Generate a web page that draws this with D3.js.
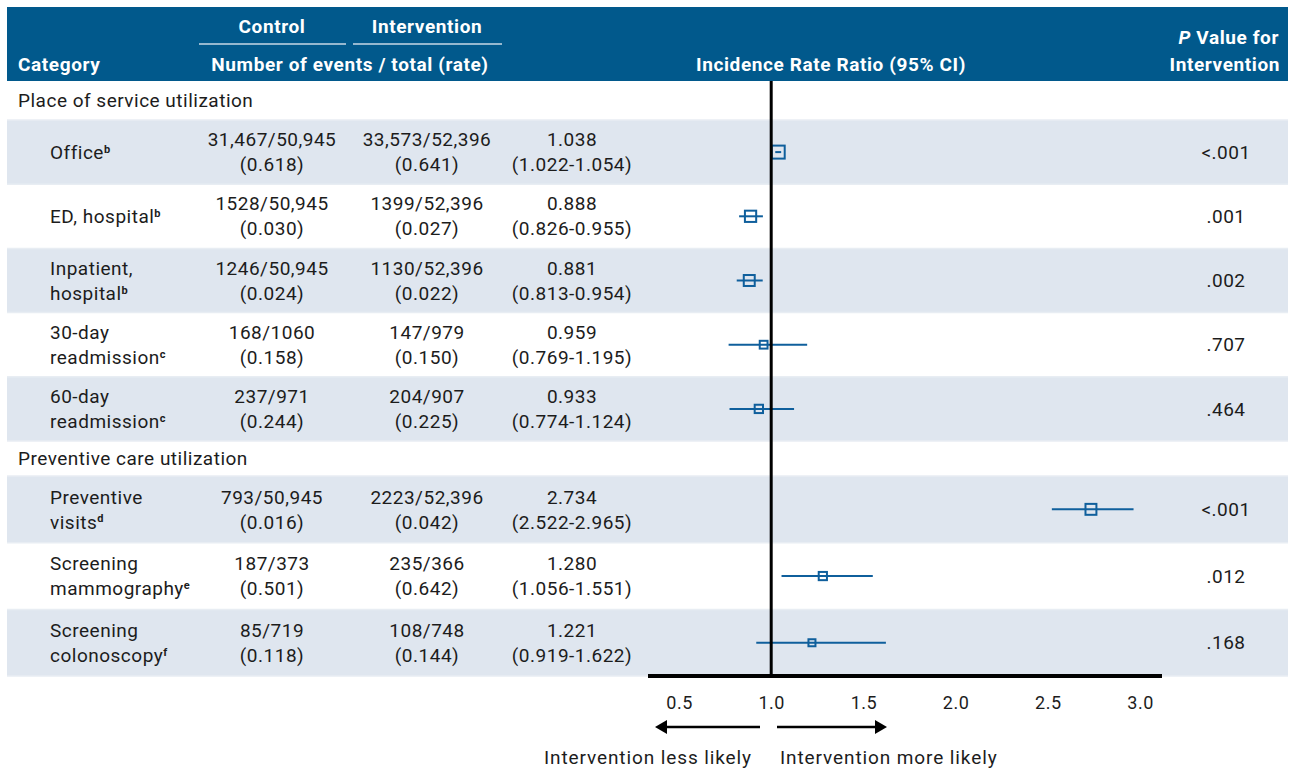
<!DOCTYPE html>
<html>
<head>
<meta charset="utf-8">
<script src="https://cdn.jsdelivr.net/npm/d3@7"></script>
<style>
  body { margin: 0; background: #ffffff; }
  svg { display: block; font-family: Roboto, "Noto Sans", sans-serif; letter-spacing: 0.5px; }
</style>
</head>
<body>
<svg id="chart" width="1293" height="769"></svg>
<script>
// section headings and which section each category belongs to
const sections = ["Place of service utilization", "Preventive care utilization"];
const categoryLines = [
  ["Office"],
  ["ED, hospital"],
  ["Inpatient,", "hospital"],
  ["30-day", "readmission"],
  ["60-day", "readmission"],
  ["Preventive", "visits"],
  ["Screening", "mammography"],
  ["Screening", "colonoscopy"],
];
const footnotes = ["b", "b", "b", "c", "c", "d", "e", "f"];
const categorySection = [0, 0, 0, 0, 0, 1, 1, 1];

const controlEvents = [31467, 1528, 1246, 168, 237, 793, 187, 85];
const controlTotals = [50945, 50945, 50945, 1060, 971, 50945, 373, 719];
const controlRates = [0.618, 0.03, 0.024, 0.158, 0.244, 0.016, 0.501, 0.118];
const interventionEvents = [33573, 1399, 1130, 147, 204, 2223, 235, 108];
const interventionTotals = [52396, 52396, 52396, 979, 907, 52396, 366, 748];
const interventionRates = [0.641, 0.027, 0.022, 0.15, 0.225, 0.042, 0.642, 0.144];

const irr = [1.038, 0.888, 0.881, 0.959, 0.933, 2.734, 1.28, 1.221];
const ciLow = [1.022, 0.826, 0.813, 0.769, 0.774, 2.522, 1.056, 0.919];
const ciHigh = [1.054, 0.955, 0.954, 1.195, 1.124, 2.965, 1.551, 1.622];
const pValues = ["<.001", ".001", ".002", ".707", ".464", "<.001", ".012", ".168"];

const axisTicks = [0.5, 1.0, 1.5, 2.0, 2.5, 3.0];

(function () {
  const svg = d3.select("#chart");
  const headerFill = "#01598c";
  const bandFill = "#dfe6ef";
  const markColor = "#0f5f9c";
  const textColor = "#1c1c1c";
  const left = 7;
  const right = 1288;
  const headerTop = 7;
  const headerBottom = 81;
  const sectionHeights = [39, 35];
  const itemHeights = [64.2, 66.7];
  const cols = { label: 50, control: 272, intervention: 427, irr: 572, p: 1226 };

  // lay rows out top to bottom
  const rows = [];
  let cursor = headerBottom;
  sections.forEach((name, s) => {
    rows.push({ type: "section", name, y0: cursor, y1: cursor + sectionHeights[s] });
    cursor += sectionHeights[s];
    let k = 0;
    categoryLines.forEach((lines, i) => {
      if (categorySection[i] !== s) return;
      rows.push({ type: "item", index: i, shaded: k % 2 === 0, y0: cursor, y1: cursor + itemHeights[s] });
      cursor += itemHeights[s];
      k += 1;
    });
  });
  const plotBottom = cursor;

  const x = d3.scaleLinear().domain([0.5, 3]).range([679, 1140]);
  const precision = irr.map((d, i) => 1 / Math.log(ciHigh[i] / ciLow[i]));
  const markSize = d3.scaleLog().domain([d3.min(precision), 12]).range([7, 13]).clamp(true);
  const count = (n) => (n >= 10000 ? d3.format(",")(n) : String(n));
  const f3 = d3.format(".3f");

  // header band
  svg.append("rect")
    .attr("x", left).attr("y", headerTop)
    .attr("width", right - left).attr("height", headerBottom - headerTop)
    .attr("fill", headerFill);

  const head = svg.append("g").attr("fill", "#ffffff").attr("font-weight", 700).attr("font-size", 19)
    .style("letter-spacing", "0.6px");
  [["Control", cols.control, 199, 346], ["Intervention", cols.intervention, 353, 502]].forEach(([t, cx, x1, x2]) => {
    head.append("text").attr("x", cx).attr("y", 33).attr("text-anchor", "middle").text(t);
    svg.append("line").attr("x1", x1).attr("x2", x2).attr("y1", 44).attr("y2", 44)
      .attr("stroke", "#c9d8e6").attr("stroke-width", 1.5);
  });
  head.append("text").attr("x", 18).attr("y", 71).text("Category");
  head.append("text").attr("x", 350).attr("y", 71).attr("text-anchor", "middle").text("Number of events / total (rate)");
  head.append("text").attr("x", 831).attr("y", 71).attr("text-anchor", "middle").text("Incidence Rate Ratio (95% CI)");
  const pHead = head.append("text").attr("x", 1279).attr("y", 44).attr("text-anchor", "end");
  pHead.append("tspan").attr("font-style", "italic").text("P");
  pHead.append("tspan").text(" Value for");
  head.append("text").attr("x", 1280).attr("y", 71).attr("text-anchor", "end").text("Intervention");

  // row backgrounds
  svg.append("g").selectAll("rect")
    .data(rows.filter((r) => r.type === "item" && r.shaded))
    .join("rect")
    .attr("x", left).attr("y", (d) => d.y0)
    .attr("width", right - left).attr("height", (d) => d.y1 - d.y0)
    .attr("fill", bandFill);

  svg.append("g").selectAll("line")
    .data(rows.slice(1).map((r) => r.y0).concat([plotBottom]))
    .join("line")
    .attr("x1", left).attr("x2", right)
    .attr("y1", (d) => d).attr("y2", (d) => d)
    .attr("stroke", "#e8edf3").attr("stroke-width", 1.5);

  // text cells
  const body = svg.append("g").attr("fill", textColor).attr("font-size", 19);
  rows.filter((r) => r.type === "section").forEach((r) => {
    body.append("text").attr("x", 18).attr("y", (r.y0 + r.y1) / 2).attr("dy", "0.35em").text(r.name);
  });

  function twoLine(cx, cy, lines, anchor) {
    lines.forEach((t, j) => {
      const offset = lines.length === 1 ? 0 : (j === 0 ? -12.5 : 12.5);
      body.append("text").attr("x", cx).attr("y", cy + offset).attr("dy", "0.35em")
        .attr("text-anchor", anchor).text(t);
    });
  }

  rows.filter((r) => r.type === "item").forEach((r) => {
    const i = r.index;
    const cy = (r.y0 + r.y1) / 2;
    const lines = categoryLines[i];
    lines.forEach((t, j) => {
      const offset = lines.length === 1 ? 0 : (j === 0 ? -12.5 : 12.5);
      const label = body.append("text").attr("x", cols.label).attr("y", cy + offset).attr("dy", "0.35em");
      label.append("tspan").text(t);
      if (j === lines.length - 1) {
        label.append("tspan").attr("font-size", 11).attr("font-weight", 700).attr("dy", "-0.55em").text(footnotes[i]);
      }
    });
    twoLine(cols.control, cy, [`${count(controlEvents[i])}/${count(controlTotals[i])}`, `(${f3(controlRates[i])})`], "middle");
    twoLine(cols.intervention, cy, [`${count(interventionEvents[i])}/${count(interventionTotals[i])}`, `(${f3(interventionRates[i])})`], "middle");
    twoLine(cols.irr, cy, [f3(irr[i]), `(${f3(ciLow[i])}-${f3(ciHigh[i])})`], "middle");
    twoLine(cols.p, cy, [pValues[i]], "middle");
  });

  // forest marks
  const items = rows.filter((r) => r.type === "item");
  const marks = svg.append("g").selectAll("g")
    .data(items)
    .join("g")
    .attr("transform", (d) => `translate(0,${(d.y0 + d.y1) / 2})`);
  marks.append("line")
    .attr("x1", (d) => x(ciLow[d.index])).attr("x2", (d) => x(ciHigh[d.index]))
    .attr("stroke", markColor).attr("stroke-width", 2);
  marks.append("rect")
    .attr("x", (d) => x(irr[d.index]) - markSize(precision[d.index]) / 2)
    .attr("y", (d) => -markSize(precision[d.index]) / 2)
    .attr("width", (d) => markSize(precision[d.index]))
    .attr("height", (d) => markSize(precision[d.index]))
    .attr("fill", "none").attr("stroke", markColor).attr("stroke-width", 2);

  // reference line at 1 and the axis
  svg.append("line")
    .attr("x1", x(1)).attr("x2", x(1)).attr("y1", headerBottom).attr("y2", plotBottom)
    .attr("stroke", "#000").attr("stroke-width", 3);
  svg.append("line")
    .attr("x1", 648).attr("x2", 1162).attr("y1", plotBottom).attr("y2", plotBottom)
    .attr("stroke", "#000").attr("stroke-width", 4);

  const axis = svg.append("g")
    .attr("transform", `translate(0,${plotBottom})`)
    .call(d3.axisBottom(x).tickValues(axisTicks).tickFormat(d3.format(".1f")).tickSize(0).tickPadding(20));
  axis.select(".domain").remove();
  axis.selectAll("text").attr("font-size", 18).attr("font-family", "Roboto, sans-serif").attr("fill", textColor);

  // direction arrows
  const arrowY = 727;
  svg.append("line").attr("x1", 760).attr("x2", 664).attr("y1", arrowY).attr("y2", arrowY)
    .attr("stroke", "#000").attr("stroke-width", 2.5);
  svg.append("path").attr("d", `M655,${arrowY} L667,${arrowY - 7} L667,${arrowY + 7} Z`).attr("fill", "#000");
  svg.append("line").attr("x1", 777).attr("x2", 878).attr("y1", arrowY).attr("y2", arrowY)
    .attr("stroke", "#000").attr("stroke-width", 2.5);
  svg.append("path").attr("d", `M887,${arrowY} L875,${arrowY - 7} L875,${arrowY + 7} Z`).attr("fill", "#000");
  body.append("text").attr("x", 752).attr("y", 757).attr("dy", "0.35em").attr("text-anchor", "end")
    .style("letter-spacing", "0.9px").text("Intervention less likely");
  body.append("text").attr("x", 780).attr("y", 757).attr("dy", "0.35em")
    .style("letter-spacing", "0.9px").text("Intervention more likely");
})();
</script>
</body>
</html>
